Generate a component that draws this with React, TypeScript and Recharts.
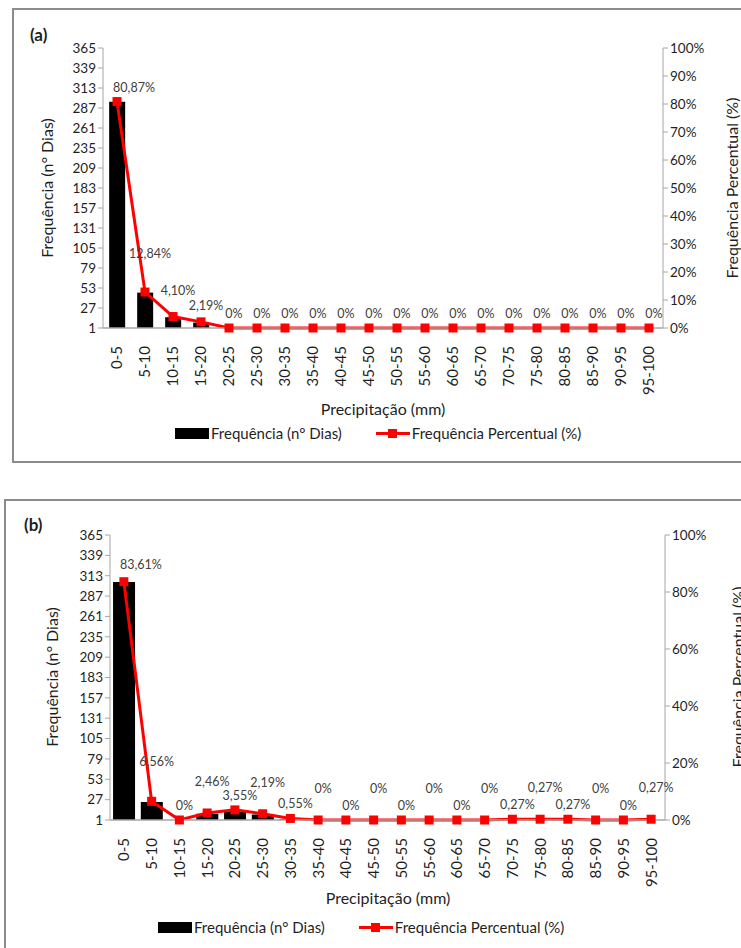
import React from 'react';
import { Bar, ComposedChart, Line, XAxis, YAxis } from 'recharts';

const FONT = 'Lato, "Open Sans", sans-serif';
const AXIS_GRAY = '#a6a6a6';
const TEXT = '#1f1f1f';

const categories = [
  '0-5', '5-10', '10-15', '15-20', '20-25', '25-30', '30-35', '35-40', '40-45', '45-50',
  '50-55', '55-60', '60-65', '65-70', '70-75', '75-80', '80-85', '85-90', '90-95', '95-100',
];

// (a) dias por classe e frequencia percentual
const diasA = [295, 47, 15, 8, 0, 0, 0, 0, 0, 0, 0, 0, 0, 0, 0, 0, 0, 0, 0, 0];
const pctA = [80.87, 12.84, 4.1, 2.19, 0, 0, 0, 0, 0, 0, 0, 0, 0, 0, 0, 0, 0, 0, 0, 0];

// (b)
const diasB = [305, 24, 0, 9, 13, 8, 2, 0, 0, 0, 0, 0, 0, 0, 1, 1, 1, 0, 0, 1];
const pctB = [83.61, 6.56, 0, 2.46, 3.55, 2.19, 0.55, 0, 0, 0, 0, 0, 0, 0, 0.27, 0.27, 0.27, 0, 0, 0.27];

const leftTicks = [1, 27, 53, 79, 105, 131, 157, 183, 209, 235, 261, 287, 313, 339, 365];
const rightTicksA = [0, 10, 20, 30, 40, 50, 60, 70, 80, 90, 100];
const rightTicksB = [0, 20, 40, 60, 80, 100];
const edgeTicks = [0, 1, 2, 3, 4, 5, 6, 7, 8, 9, 10, 11, 12, 13, 14, 15, 16, 17, 18, 19, 20];

function formatPct(v: number) {
  if (v === 0) return '0%';
  return v.toFixed(2).replace('.', ',') + '%';
}

function CategoryTick(props: any) {
  const { x, y, payload } = props;
  return (
    <text
      x={x}
      y={y}
      transform={`rotate(-90 ${x} ${y})`}
      dx={-10}
      dy="0.36em"
      textAnchor="end"
      fill={TEXT}
      fontSize={15}
      fontFamily={FONT}
    >
      {payload.value}
    </text>
  );
}

function SquareDot(props: any) {
  const { cx, cy, index } = props;
  if (cx == null || cy == null) return null;
  return <rect key={`d${index}`} x={cx - 4.5} y={cy - 4.5} width={9} height={9} fill="#ff0000" />;
}

// label placement, like the hand-moved labels of the original sheet
function makeLabel(alternate: boolean, lifts: Record<number, number>) {
  return (props: any) => {
    const { x, y, value, index } = props;
    let lift = alternate && index % 2 === 1 ? 27 : 10;
    if (lifts[index] != null) lift = lifts[index];
    const dx = index === 0 ? 17 : 5;
    return (
      <text
        key={`l${index}`}
        x={x + dx}
        y={y - lift}
        textAnchor="middle"
        fill="#404040"
        fontSize={12.5}
        fontFamily={FONT}
      >
        {formatPct(Number(value))}
      </text>
    );
  };
}

type PanelProps = {
  dias: number[];
  pct: number[];
  rightTicks: number[];
  top: number;
  marginLeft: number;
  marginRight: number;
  marginTop: number;
  plotHeight: number;
  gap: string;
  alternate: boolean;
  lifts: Record<number, number>;
};

function Panel({ dias, pct, rightTicks, top, marginLeft, marginRight, marginTop, plotHeight, gap, alternate, lifts }: PanelProps) {
  const height = 470;
  const data = categories.map((c, i) => ({ faixa: c, dias: dias[i], pct: pct[i] }));
  return (
    <div style={{ position: 'absolute', left: 0, top, width: 741, height }}>
      <ComposedChart
        width={741}
        height={height}
        data={data}
        barCategoryGap={gap}
        margin={{ top: marginTop, left: marginLeft, right: marginRight, bottom: height - marginTop - plotHeight - 70 }}
      >
        <XAxis
          xAxisId="edges"
          type="number"
          domain={[0, 20]}
          ticks={edgeTicks}
          allowDataOverflow
          tick={false}
          tickLine={{ stroke: AXIS_GRAY }}
          tickSize={6}
          axisLine={false}
          height={0}
        />
        <XAxis
          dataKey="faixa"
          interval={0}
          tickLine={false}
          axisLine={{ stroke: AXIS_GRAY, strokeWidth: 1.5 }}
          tick={<CategoryTick />}
          height={70}
        />
        <YAxis
          yAxisId="dias"
          domain={[1, 365]}
          ticks={leftTicks}
          interval={0}
          allowDataOverflow
          width={40}
          tickSize={5}
          tickLine={{ stroke: AXIS_GRAY }}
          axisLine={{ stroke: AXIS_GRAY }}
          tick={{ fill: TEXT, fontSize: 13.5, fontFamily: FONT }}
        />
        <YAxis
          yAxisId="pct"
          orientation="right"
          domain={[0, 100]}
          ticks={rightTicks}
          interval={0}
          width={60}
          tickSize={5}
          tickLine={{ stroke: AXIS_GRAY }}
          axisLine={{ stroke: AXIS_GRAY }}
          tickFormatter={(v) => `${v}%`}
          tick={{ fill: TEXT, fontSize: 13.5, fontFamily: FONT }}
        />
        <Bar yAxisId="dias" dataKey="dias" fill="#000000" isAnimationActive={false} />
        <Line
          yAxisId="pct"
          dataKey="pct"
          type="linear"
          stroke="#ff0000"
          strokeWidth={3}
          dot={SquareDot}
          activeDot={false}
          label={makeLabel(alternate, lifts)}
          isAnimationActive={false}
        />
      </ComposedChart>
    </div>
  );
}

const textStyle: React.CSSProperties = {
  position: 'absolute',
  fontFamily: FONT,
  fontSize: 15,
  color: TEXT,
  whiteSpace: 'nowrap',
  lineHeight: '18px',
};

function Rotated({ x, y, children }: { x: number; y: number; children: React.ReactNode }) {
  return (
    <div style={{ ...textStyle, fontSize: 16, left: x, top: y, transform: 'translate(-50%, -50%) rotate(-90deg)' }}>
      {children}
    </div>
  );
}

function LegendRow({ top, left, gap }: { top: number; left: number; gap: number }) {
  return (
    <div style={{ ...textStyle, top, left, display: 'flex', alignItems: 'center' }}>
      <span style={{ display: 'inline-block', width: 34, height: 11, background: '#000' }} />
      <span style={{ marginLeft: 2 }}>Frequência (n° Dias)</span>
      <span style={{ display: 'inline-block', width: 34, height: 11, marginLeft: gap, position: 'relative' }}>
        <span style={{ position: 'absolute', left: 0, right: 0, top: 4, height: 3, background: '#ff0000' }} />
        <span style={{ position: 'absolute', left: 12.5, top: 1, width: 9, height: 9, background: '#ff0000' }} />
      </span>
      <span style={{ marginLeft: 2 }}>Frequência Percentual (%)</span>
    </div>
  );
}

export default function App() {
  return (
    <div style={{ position: 'absolute', left: 0, top: 0, width: 741, height: 948, overflow: 'hidden', background: '#fff' }}>
      <div style={{ position: 'absolute', left: 12, top: 8, width: 760, height: 455, border: '2px solid #8c8c8c', boxSizing: 'border-box' }} />
      <div style={{ position: 'absolute', left: 4, top: 499, width: 760, height: 500, border: '2px solid #8c8c8c', boxSizing: 'border-box' }} />

      <Panel
        dias={diasA}
        pct={pctA}
        rightTicks={rightTicksA}
        top={0}
        marginLeft={63}
        marginRight={18}
        marginTop={48}
        plotHeight={280}
        gap="22%"
        alternate={false}
        lifts={{ 1: 34, 2: 22, 3: 12 }}
      />
      <Panel
        dias={diasB}
        pct={pctB}
        rightTicks={rightTicksB}
        top={490}
        marginLeft={70}
        marginRight={16}
        marginTop={45}
        plotHeight={285}
        gap="11%"
        alternate={true}
        lifts={{ 1: 35, 0: 13 }}
      />

      <div style={{ ...textStyle, left: 30, top: 26, fontSize: 17, fontWeight: 700 }}>(a)</div>
      <div style={{ ...textStyle, left: 24, top: 516, fontSize: 17, fontWeight: 700 }}>(b)</div>

      <Rotated x={47} y={188}>Frequência (n° Dias)</Rotated>
      <Rotated x={732} y={188}>Frequência Percentual (%)</Rotated>
      <Rotated x={52} y={677}>Frequência (n° Dias)</Rotated>
      <Rotated x={738} y={677}>Frequência Percentual (%)</Rotated>

      <div style={{ ...textStyle, fontSize: 16, left: 383, top: 409, transform: 'translate(-50%, -50%)' }}>Precipitação (mm)</div>
      <div style={{ ...textStyle, fontSize: 16, left: 388, top: 898, transform: 'translate(-50%, -50%)' }}>Precipitação (mm)</div>

      <LegendRow top={424} left={175} gap={34} />
      <LegendRow top={918} left={158} gap={34} />
    </div>
  );
}
